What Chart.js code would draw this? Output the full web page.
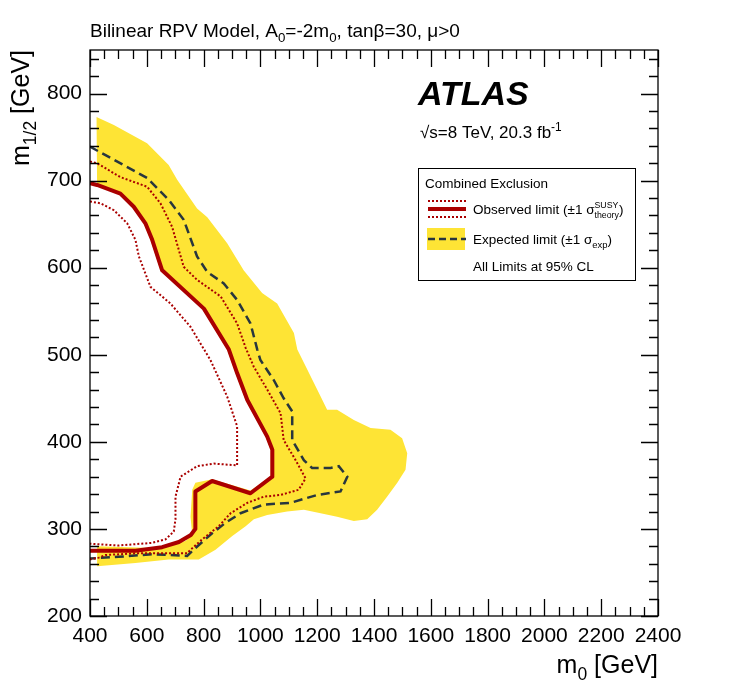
<!DOCTYPE html>
<html>
<head>
<meta charset="utf-8">
<title>Bilinear RPV Model exclusion</title>
<script src="https://cdn.jsdelivr.net/npm/chart.js@4.4.1/dist/chart.umd.min.js"></script>
<style>
  html, body { margin: 0; padding: 0; background: #fff; }
  #wrap { width: 747px; height: 700px; }
</style>
</head>
<body>
<div id="wrap"><canvas id="grafico" width="747" height="700"></canvas></div>
<script>
// Contours: m0 [GeV] vs m1/2 [GeV]
const obsM0  = [400, 425, 507, 554, 595, 619, 654, 801, 889, 918, 954, 1024, 1042, 1042, 965, 830, 771, 771, 755, 713, 654, 560, 400];
const obsM12 = [697, 695, 685, 670, 651, 632, 597, 553, 506, 479, 448, 406, 391, 360, 341, 355, 343, 300, 293, 285, 279, 275, 275];

// observed +1 sigma(theory)
const obsUpM0  = [400, 425, 507, 601, 648, 689, 730, 777, 860, 918, 948, 977, 1024, 1071, 1082, 1124, 1159, 1135, 1071, 1012, 954, 895, 853, 795, 754, 742, 560, 455, 431, 400];
const obsUpM12 = [722, 720, 704, 693, 674, 647, 601, 586, 567, 536, 508, 486, 460, 433, 402, 379, 358, 345, 339, 337, 330, 318, 303, 288, 276, 272, 272, 270, 267, 265];

// observed -1 sigma(theory)
const obsDnM0  = [400, 437, 484, 531, 560, 572, 613, 683, 754, 789, 824, 883, 918, 918, 836, 777, 719, 701, 701, 695, 666, 619, 501, 400];
const obsDnM12 = [676, 674, 666, 651, 632, 613, 578, 559, 532, 513, 494, 452, 418, 373, 375, 372, 360, 337, 311, 297, 288, 284, 281, 283];

// expected limit
const expM0  = [400, 484, 601, 677, 730, 777, 813, 871, 918, 965, 989, 1000, 1047, 1082, 1112, 1112, 1153, 1182, 1247, 1276, 1306, 1282, 1200, 1106, 1012, 930, 877, 830, 771, 742, 619, 501, 400];
const expM12 = [739, 724, 703, 678, 655, 613, 595, 582, 563, 536, 506, 494, 471, 450, 435, 402, 379, 370, 370, 372, 360, 343, 339, 330, 328, 318, 307, 295, 278, 269, 271, 268, 266];

// expected +-1 sigma(exp) band, outline of the yellow area (outer edge then inner edge)
const bandM0  = [423, 484, 601, 677, 707, 777, 813, 883, 941, 1006, 1059, 1118, 1130, 1165, 1206, 1235, 1270, 1329, 1388, 1458,
                 1499, 1517, 1511, 1482, 1446, 1411, 1376, 1329, 1270, 1212, 1153, 1094, 1024, 977, 948, 901, 842, 783, 677, 560, 425,
                 425, 619, 736, 760, 754, 760, 771, 830, 965, 1036, 1036, 1018, 948, 912, 883, 795, 648, 613, 589, 550, 504, 425];
const bandM12 = [773, 764, 743, 718, 701, 668, 658, 628, 597, 571, 559, 525, 506, 483, 456, 437, 437, 425, 416, 414,
                 404, 387, 368, 353, 337, 322, 311, 309, 314, 318, 322, 320, 316, 311, 303, 292, 276, 265, 265, 261, 257,
                 280, 278, 286, 293, 314, 345, 353, 357, 344, 360, 391, 406, 448, 479, 506, 553, 597, 632, 651, 670, 685, 695];

// tick labels
const xTickValues = [400, 600, 800, 1000, 1200, 1400, 1600, 1800, 2000, 2200, 2400];
const yTickValues = [200, 300, 400, 500, 600, 700, 800];

const FONT = '"Liberation Sans", Arial, Helvetica, sans-serif';
const ROJO = '#aa0000';
const OSCURO = '#28363e';
const AMARILLO = '#fee435';

function pts(xs, ys) {
    return xs.map((x, i) => ({ x: x, y: ys[i] }));
}

function fontOf(px, style) {
    return (style || '') + ' ' + px + 'px ' + FONT;
}

// runs: ['txt'] normal, ['txt','_'] subscript, ['txt','^'] superscript, ['sup','sub','^_'] stacked
function medirRuns(ctx, runs, size, style) {
    let w = 0;
    runs.forEach(r => {
        if (r.length === 1) { ctx.font = fontOf(size, style); w += ctx.measureText(r[0]).width; }
        else if (r[1] === '_' || r[1] === '^') { ctx.font = fontOf(size * 0.7, style); w += ctx.measureText(r[0]).width; }
        else { ctx.font = fontOf(size * 0.65, style); w += Math.max(ctx.measureText(r[0]).width, ctx.measureText(r[1]).width); }
    });
    return w;
}

function textoRico(ctx, x, y, runs, size, align, style) {
    if (align === 'right') x -= medirRuns(ctx, runs, size, style);
    ctx.textAlign = 'left';
    ctx.textBaseline = 'alphabetic';
    runs.forEach(r => {
        if (r.length === 1) {
            ctx.font = fontOf(size, style);
            ctx.fillText(r[0], x, y);
            x += ctx.measureText(r[0]).width;
        } else if (r[1] === '_') {
            ctx.font = fontOf(size * 0.7, style);
            ctx.fillText(r[0], x, y + size * 0.28);
            x += ctx.measureText(r[0]).width;
        } else if (r[1] === '^') {
            ctx.font = fontOf(size * 0.7, style);
            ctx.fillText(r[0], x, y - size * 0.42);
            x += ctx.measureText(r[0]).width;
        } else {
            ctx.font = fontOf(size * 0.65, style);
            ctx.fillText(r[0], x, y - size * 0.45);
            ctx.fillText(r[1], x, y + size * 0.32);
            x += Math.max(ctx.measureText(r[0]).width, ctx.measureText(r[1]).width);
        }
    });
}

// frame, inner ticks on all four sides, labels and legend box (ROOT / ATLAS look)
const decoracion = {
    id: 'decoracion',
    afterDraw(chart) {
        const { ctx, chartArea: a, scales: { x, y } } = chart;
        ctx.save();
        ctx.fillStyle = '#000';
        ctx.strokeStyle = '#000';
        ctx.lineWidth = 1.3;
        ctx.setLineDash([]);
        ctx.strokeRect(a.left, a.top, a.right - a.left, a.bottom - a.top);

        ctx.beginPath();
        for (let v = x.min; v <= x.max; v += 50) {
            const px = Math.round(x.getPixelForValue(v)) + 0.5;
            const len = v % 200 === 0 ? 17 : 9;
            ctx.moveTo(px, a.bottom); ctx.lineTo(px, a.bottom - len);
            ctx.moveTo(px, a.top); ctx.lineTo(px, a.top + len);
        }
        for (let v = y.min; v <= y.max; v += 20) {
            const py = Math.round(y.getPixelForValue(v)) + 0.5;
            const len = v % 100 === 0 ? 17 : 9;
            ctx.moveTo(a.left, py); ctx.lineTo(a.left + len, py);
            ctx.moveTo(a.right, py); ctx.lineTo(a.right - len, py);
        }
        ctx.stroke();

        // title
        textoRico(ctx, 90, 37, [['Bilinear RPV Model, A'], ['0', '_'], ['=-2m'], ['0', '_'], [', tan\u03b2=30, \u03bc>0']], 19);

        // axis titles
        textoRico(ctx, 658, 673, [['m'], ['0', '_'], [' [GeV]']], 25, 'right');
        ctx.save();
        ctx.translate(29, 50);
        ctx.rotate(-Math.PI / 2);
        textoRico(ctx, 0, 0, [['m'], ['1/2', '_'], [' [GeV]']], 25, 'right');
        ctx.restore();

        // ATLAS label
        ctx.font = fontOf(34, 'italic bold');
        ctx.fillText('ATLAS', 418, 105);
        textoRico(ctx, 420, 138, [['\u221as=8 TeV, 20.3 fb'], ['-1', '^']], 17);

        // legend
        ctx.fillStyle = '#fff';
        ctx.fillRect(418, 168, 217, 112);
        ctx.lineWidth = 1;
        ctx.strokeRect(418.5, 168.5, 217, 112);
        ctx.fillStyle = '#000';
        textoRico(ctx, 425, 188, [['Combined Exclusion']], 13.5);

        ctx.strokeStyle = ROJO;
        ctx.lineWidth = 4;
        ctx.beginPath(); ctx.moveTo(428, 209); ctx.lineTo(466, 209); ctx.stroke();
        ctx.lineWidth = 2;
        ctx.setLineDash([2, 2]);
        ctx.beginPath();
        ctx.moveTo(428, 201); ctx.lineTo(466, 201);
        ctx.moveTo(428, 217); ctx.lineTo(466, 217);
        ctx.stroke();
        textoRico(ctx, 473, 214, [['Observed limit (\u00b11 \u03c3'], ['SUSY', 'theory', '^_'], [')']], 13.5);

        ctx.setLineDash([]);
        ctx.fillStyle = AMARILLO;
        ctx.fillRect(427, 228, 38, 22);
        ctx.strokeStyle = OSCURO;
        ctx.lineWidth = 2.5;
        ctx.setLineDash([7, 4]);
        ctx.beginPath(); ctx.moveTo(428, 239); ctx.lineTo(466, 239); ctx.stroke();
        ctx.setLineDash([]);
        ctx.fillStyle = '#000';
        textoRico(ctx, 473, 244, [['Expected limit (\u00b11 \u03c3'], ['exp', '_'], [')']], 13.5);
        textoRico(ctx, 473, 271, [['All Limits at 95% CL']], 13.5);
        ctx.restore();
    }
};

const lineaBase = { showLine: true, pointRadius: 0, pointHoverRadius: 0, fill: false, tension: 0 };

new Chart(document.getElementById('grafico'), {
    type: 'scatter',
    data: {
        datasets: [
            Object.assign({}, lineaBase, {
                label: 'Observed limit', data: pts(obsM0, obsM12),
                borderColor: ROJO, borderWidth: 4, borderJoinStyle: 'round', order: 1
            }),
            Object.assign({}, lineaBase, {
                label: 'Observed +1 sigma', data: pts(obsUpM0, obsUpM12),
                borderColor: ROJO, borderWidth: 2, borderDash: [2, 2], order: 2
            }),
            Object.assign({}, lineaBase, {
                label: 'Observed -1 sigma', data: pts(obsDnM0, obsDnM12),
                borderColor: ROJO, borderWidth: 2, borderDash: [2, 2], order: 2
            }),
            Object.assign({}, lineaBase, {
                label: 'Expected limit', data: pts(expM0, expM12),
                borderColor: OSCURO, borderWidth: 2.5, borderDash: [9, 5], order: 3
            }),
            Object.assign({}, lineaBase, {
                label: 'Expected +-1 sigma', data: pts(bandM0, bandM12),
                borderColor: 'rgba(0,0,0,0)', borderWidth: 1, backgroundColor: AMARILLO,
                fill: 'shape', order: 10
            })
        ]
    },
    options: {
        responsive: false,
        animation: false,
        events: [],
        layout: { padding: { top: 50, right: 89, left: 0, bottom: 0 } },
        plugins: {
            legend: { display: false },
            tooltip: { enabled: false }
        },
        scales: {
            x: {
                type: 'linear',
                min: 400,
                max: 2400,
                afterBuildTicks: s => { s.ticks = xTickValues.map(v => ({ value: v })); },
                afterFit: s => { s.height = 84; },
                grid: { display: false, drawTicks: false, tickLength: 0 },
                border: { display: false },
                ticks: {
                    font: { family: FONT, size: 21 },
                    color: '#000',
                    padding: 8,
                    maxRotation: 0,
                    autoSkip: false,
                    callback: v => String(v)
                }
            },
            y: {
                type: 'linear',
                min: 200,
                max: 850,
                afterBuildTicks: s => { s.ticks = yTickValues.map(v => ({ value: v })); },
                afterFit: s => { s.width = 90; },
                grid: { display: false, drawTicks: false, tickLength: 0 },
                border: { display: false },
                ticks: {
                    font: { family: FONT, size: 21 },
                    color: '#000',
                    padding: 8,
                    callback: v => String(v)
                }
            }
        }
    },
    plugins: [decoracion]
});
</script>
</body>
</html>
